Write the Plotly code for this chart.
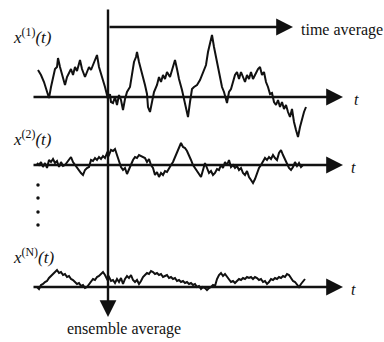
import plotly.graph_objects as go

# Signal samples: time positions and deviations (pixels-up from each baseline)
t1 = [38,41,44,47,49,51,53,55,57,58,60,62,65,67,69,71,73,75,77,80,82,85,87,89,91,93,95,97,99,100,102,104,105,107,108,110,111,113,115,117,119,121,123,125,127,130,132,134,136,137,139,141,143,145,147,148,150,152,154,157,159,161,163,165,167,170,172,174,175,177,179,182,184,186,188,190,192,194,197,200,202,204,206,208,210,212,214,216,218,220,222,224,226,227,229,231,233,235,237,239,241,243,245,247,249,251,253,255,258,260,262,264,266,268,270,272,274,276,278,280,282,284,286,288,290,292,294,296,298,300,302,304,306]
x1 = [27,22,15,5,-1,10,20,28,30,39,30,22,12,20,25,28,22,30,26,37,28,20,25,30,27,32,38,42,30,27,20,15,10,2,-2,3,-5,-6,0,-8,2,-3,-13,-2,5,10,22,35,40,45,35,28,20,12,3,-10,-15,-3,5,12,20,15,22,18,25,20,28,33,37,28,18,7,-3,-10,-20,-5,8,10,12,17,22,27,32,45,55,62,50,38,30,20,10,5,-3,-6,5,8,15,22,25,18,25,20,15,22,18,25,18,22,28,30,22,25,15,10,3,4,-5,-8,-3,-10,-5,-12,-8,-15,-20,-12,-25,-33,-40,-30,-22,-15,-10]

t2 = list(range(37, 305, 2))
x2 = [2,0,3,-2,2,-3,5,3,6,2,4,-2,3,-1,0,3,6,8,3,0,-3,-6,-8,-10,-5,-3,-2,5,4,7,5,8,6,9,7,12,10,15,14,16,10,3,-2,-5,-3,-9,-4,2,5,8,7,10,9,8,7,3,6,0,-3,-10,-7,-12,-8,-10,-6,-7,-3,0,3,8,12,18,22,18,17,14,10,5,0,-3,-7,-10,-12,-5,2,-3,-8,-6,-10,-8,-4,-5,0,-3,3,0,5,-2,0,-3,-1,-5,-3,-8,-10,-6,-12,-15,-18,-14,-8,-3,0,3,7,5,8,6,10,7,5,12,15,10,5,2,-3,-5,-2,3,-1,2,-2,0]

tN = list(range(37, 307, 2))
xN = [0,-2,2,3,5,6,9,11,13,15,17,14,15,12,13,10,11,8,7,5,3,4,1,2,-1,0,3,5,8,7,10,11,13,15,12,8,10,6,7,4,8,5,9,3,8,11,9,12,7,5,7,3,6,10,12,14,13,16,15,13,14,12,13,10,11,12,9,10,8,9,6,7,5,6,4,5,3,4,2,3,0,1,-2,0,-1,-3,-1,0,2,1,8,12,14,11,13,10,8,5,6,4,6,8,7,9,8,10,9,10,8,10,9,7,8,5,6,3,5,8,7,9,8,10,9,11,10,13,12,9,6,5,2,0,3,6,8]

series = [("x1", t1, x1), ("x2", t2, x2), ("xN", tN, xN)]
baselines = [97, 165, 287]
labels = ["<i>x</i><sup>(1)</sup><i>(t)</i>", "<i>x</i><sup>(2)</sup><i>(t)</i>", "<i>x</i><sup>(N)</sup><i>(t)</i>"]
label_y = [36, 138, 256]

fig = go.Figure()
for (name, t, v), b in zip(series, baselines):
    fig.add_trace(go.Scatter(x=t, y=[b - d for d in v], mode="lines",
                             line=dict(color="#111111", width=2), hoverinfo="skip", showlegend=False))

ann = []
def arrow(x0, y0, x1_, y1_):
    ann.append(dict(x=x1_, y=y1_, ax=x0, ay=y0, xref="x", yref="y", axref="x", ayref="y",
                    text="", showarrow=True, arrowhead=2, arrowsize=1.4, arrowwidth=2.4,
                    arrowcolor="#111111"))

for b in baselines:
    arrow(32, b, 343, b)
arrow(108, 8, 108, 317)
arrow(108, 27, 293, 27)

SERIF = "Liberation Serif"
for lab, ly in zip(labels, label_y):
    ann.append(dict(x=11, y=ly, xref="x", yref="y", text=lab, showarrow=False,
                    xanchor="left", yanchor="middle",
                    font=dict(size=17, family=SERIF, color="#111111")))
for b, tx in zip(baselines, [356, 353, 353]):
    ann.append(dict(x=tx, y=b + 2, xref="x", yref="y", text="<i>t</i>", showarrow=False,
                    xanchor="center", yanchor="middle",
                    font=dict(size=16, family=SERIF, color="#111111")))
ann.append(dict(x=299, y=30, xref="x", yref="y", text="time average", showarrow=False,
                xanchor="left", yanchor="middle", font=dict(size=16, family=SERIF, color="#111111")))
ann.append(dict(x=124, y=329, xref="x", yref="y", text="ensemble average", showarrow=False,
                xanchor="center", yanchor="middle", font=dict(size=16, family=SERIF, color="#111111")))

fig.add_trace(go.Scatter(x=[38, 38, 38, 38], y=[185, 198, 212, 225], mode="markers",
                         marker=dict(color="#111111", size=3.5), hoverinfo="skip", showlegend=False))

fig.update_layout(width=384, height=342, margin=dict(l=0, r=0, t=0, b=0),
                  paper_bgcolor="white", plot_bgcolor="white", annotations=ann,
                  font=dict(family=SERIF),
                  xaxis=dict(range=[0, 384], visible=False, fixedrange=True),
                  yaxis=dict(range=[342, 0], visible=False, fixedrange=True))
fig.write_html("out.html", config={"displayModeBar": False},
               post_script="document.body.style.margin='0';document.body.style.overflow='hidden';")
